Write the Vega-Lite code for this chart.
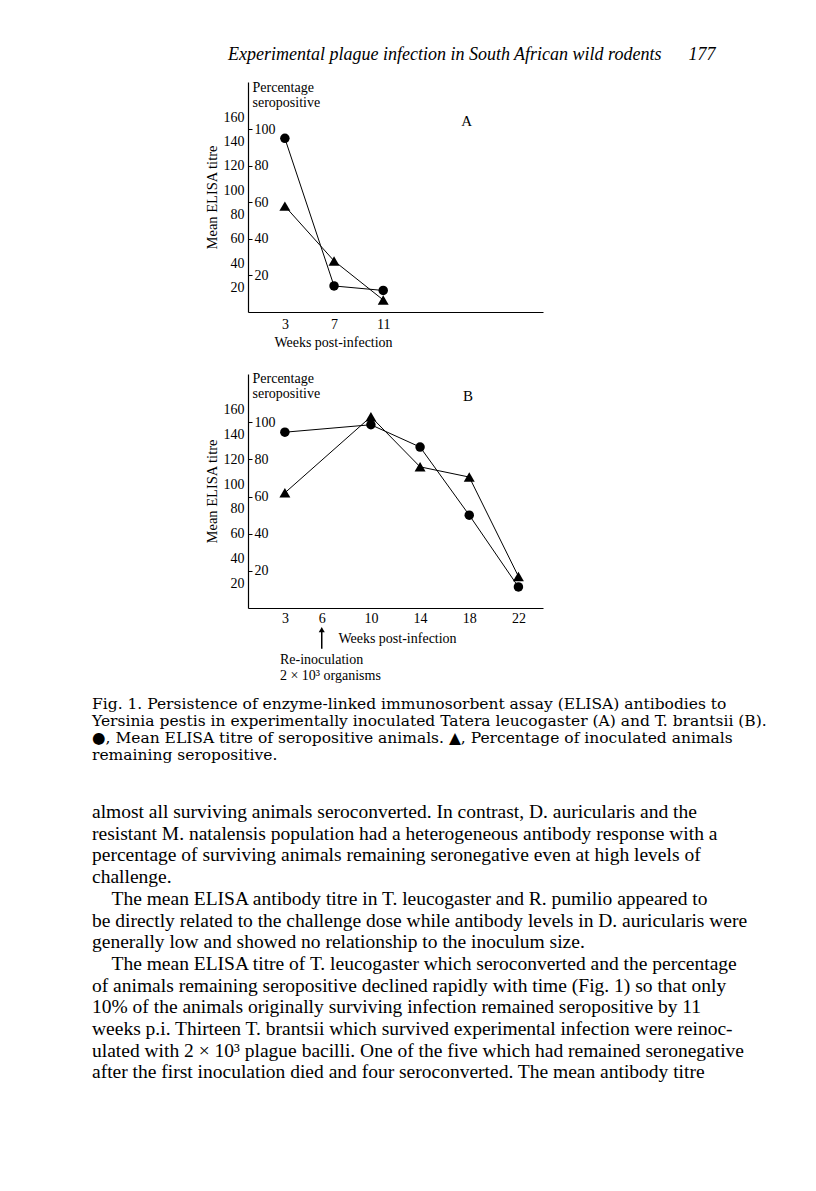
{
  "$schema": "https://vega.github.io/schema/vega-lite/v6.json",
  "background": "white",
  "padding": {"left": 92, "top": 46, "right": 5, "bottom": 5},
  "bounds": "flush",
  "spacing": 62,
  "config": {
    "view": {"stroke": null},
    "font": "Liberation Serif",
    "axis": {"grid": false, "domainColor": "black", "domainWidth": 1.2, "tickColor": "black", "labelColor": "black", "titleColor": "black", "labelFont": "Liberation Serif", "titleFont": "Liberation Serif", "labelFontSize": 14, "titleFontSize": 14, "titleFontWeight": "normal"}
  },
  "datasets": {
    "panelA": [
      {"week": 3, "elisa": 142.7, "pct": 58},
      {"week": 7, "elisa": 21.4, "pct": 28},
      {"week": 11, "elisa": 17.7, "pct": 6.6}
    ],
    "panelB": [
      {"week": 3, "elisa": 142, "pct": 62},
      {"week": 10, "elisa": 148, "pct": 103},
      {"week": 14, "elisa": 130, "pct": 76},
      {"week": 18, "elisa": 75, "pct": 70.5},
      {"week": 22, "elisa": 17, "pct": 17}
    ]
  },
  "vconcat": [
    {
      "width": 295,
      "height": 230,
      "data": {"name": "panelA"},
      "title": {
        "text": "Experimental plague infection in South African wild rodents\u2003\u00a0\u00a0177",
        "orient": "top", "anchor": "start", "frame": "group", "dx": -20, "offset": 16,
        "font": "Liberation Serif", "fontSize": 18, "fontStyle": "italic", "fontWeight": "normal", "color": "black"
      },
      "encoding": {
        "x": {"field": "week", "type": "quantitative", "scale": {"domain": [0, 24], "nice": false, "zero": false},
              "axis": {"values": [3, 7, 11], "tickSize": 0, "labelPadding": 5, "labelFlush": false, "title": "Weeks post-infection", "titleX": 85, "titlePadding": 4}}
      },
      "layer": [
        {"mark": {"type": "line", "color": "black", "strokeWidth": 1},
         "encoding": {"y": {"field": "elisa", "type": "quantitative", "scale": {"domain": [0, 189], "nice": false},
                  "axis": {"orient": "left", "values": [20, 40, 60, 80, 100, 120, 140, 160], "tickSize": 0, "labelPadding": 4, "title": "Mean ELISA titre", "titleFontSize": 14.5, "titlePadding": 4}}}},
        {"mark": {"type": "point", "shape": "circle", "filled": true, "color": "black", "opacity": 1, "size": 90},
         "encoding": {"y": {"field": "elisa", "type": "quantitative", "scale": {"domain": [0, 189], "nice": false}, "axis": null}}},
        {"mark": {"type": "line", "color": "black", "strokeWidth": 1},
         "encoding": {"y": {"field": "pct", "type": "quantitative", "scale": {"domain": [0, 126], "nice": false},
                  "axis": {"orient": "right", "offset": -295, "values": [20, 40, 60, 80, 100], "domain": false, "tickSize": 4, "labelPadding": 2,
                           "title": ["Percentage", "seropositive"], "titleAngle": 0, "titleAlign": "left", "titleBaseline": "top", "titleX": 4, "titleY": -2, "titleLineHeight": 15}}}},
        {"mark": {"type": "point", "shape": "triangle-up", "filled": true, "color": "black", "opacity": 1, "size": 120},
         "encoding": {"y": {"field": "pct", "type": "quantitative", "scale": {"domain": [0, 126], "nice": false}, "axis": null}}},
        {"transform": [{"filter": "datum.week == 3"}],
         "mark": {"type": "text", "fontSize": 15, "align": "center", "baseline": "middle", "color": "black", "font": "Liberation Serif", "text": "A"},
         "encoding": {"x": {"datum": 17.8, "type": "quantitative"},
                      "y": {"datum": 157, "type": "quantitative", "scale": {"domain": [0, 189], "nice": false}, "axis": null}}}
      ],
      "resolve": {"scale": {"y": "independent"}, "axis": {"y": "independent"}}
    },
    {
      "width": 295,
      "height": 234,
      "data": {"name": "panelB"},
      "title": {
        "text": [
          "Fig. 1. Persistence of enzyme-linked immunosorbent assay (ELISA) antibodies to",
          "Yersinia pestis in experimentally inoculated Tatera leucogaster (A) and T. brantsii (B).",
          "\u25cf, Mean ELISA titre of seropositive animals. \u25b2, Percentage of inoculated animals",
          "remaining seropositive."
        ],
        "subtitle": [
          "almost all surviving animals seroconverted. In contrast, D. auricularis and the",
          "resistant M. natalensis population had a heterogeneous antibody response with a",
          "percentage of surviving animals remaining seronegative even at high levels of",
          "challenge.",
          "\u200b\u2003The mean ELISA antibody titre in T. leucogaster and R. pumilio appeared to",
          "be directly related to the challenge dose while antibody levels in D. auricularis were",
          "generally low and showed no relationship to the inoculum size.",
          "\u200b\u2003The mean ELISA titre of T. leucogaster which seroconverted and the percentage",
          "of animals remaining seropositive declined rapidly with time (Fig. 1) so that only",
          "10% of the animals originally surviving infection remained seropositive by 11",
          "weeks p.i. Thirteen T. brantsii which survived experimental infection were reinoc-",
          "ulated with 2 \u00d7 10\u00b3 plague bacilli. One of the five which had remained seronegative",
          "after the first inoculation died and four seroconverted. The mean antibody titre"
        ],
        "orient": "bottom", "anchor": "start", "frame": "group", "dx": -156, "offset": 14,
        "font": "DejaVu Serif", "fontSize": 15.5, "fontWeight": "normal", "lineHeight": 17, "color": "black",
        "subtitleFont": "Liberation Serif", "subtitleFontSize": 19.5, "subtitleLineHeight": 21.7, "subtitlePadding": 40, "subtitleColor": "black"
      },
      "encoding": {
        "x": {"field": "week", "type": "quantitative", "scale": {"domain": [0, 24], "nice": false, "zero": false},
              "axis": {"values": [3, 6, 10, 14, 18, 22], "tickSize": 0, "labelPadding": 3, "labelFlush": false, "title": "Weeks post-infection", "titleX": 149, "titlePadding": 6}}
      },
      "layer": [
        {"mark": {"type": "line", "color": "black", "strokeWidth": 1},
         "encoding": {"y": {"field": "elisa", "type": "quantitative", "scale": {"domain": [0, 189], "nice": false},
                  "axis": {"orient": "left", "values": [20, 40, 60, 80, 100, 120, 140, 160], "tickSize": 0, "labelPadding": 4, "title": "Mean ELISA titre", "titleFontSize": 14.5, "titlePadding": 4}}}},
        {"mark": {"type": "point", "shape": "circle", "filled": true, "color": "black", "opacity": 1, "size": 90},
         "encoding": {"y": {"field": "elisa", "type": "quantitative", "scale": {"domain": [0, 189], "nice": false}, "axis": null}}},
        {"mark": {"type": "line", "color": "black", "strokeWidth": 1},
         "encoding": {"y": {"field": "pct", "type": "quantitative", "scale": {"domain": [0, 126], "nice": false},
                  "axis": {"orient": "right", "offset": -295, "values": [20, 40, 60, 80, 100], "domain": false, "tickSize": 4, "labelPadding": 2,
                           "title": ["Percentage", "seropositive"], "titleAngle": 0, "titleAlign": "left", "titleBaseline": "top", "titleX": 4, "titleY": -3, "titleLineHeight": 15}}}},
        {"mark": {"type": "point", "shape": "triangle-up", "filled": true, "color": "black", "opacity": 1, "size": 120},
         "encoding": {"y": {"field": "pct", "type": "quantitative", "scale": {"domain": [0, 126], "nice": false}, "axis": null}}},
        {"transform": [{"filter": "datum.week == 3"}],
         "mark": {"type": "text", "fontSize": 15, "align": "center", "baseline": "middle", "color": "black", "font": "Liberation Serif", "text": "B"},
         "encoding": {"x": {"datum": 17.9, "type": "quantitative"},
                      "y": {"datum": 171, "type": "quantitative", "scale": {"domain": [0, 189], "nice": false}, "axis": null}}},
        {"transform": [{"filter": "datum.week == 3"}],
         "mark": {"type": "rule", "color": "black", "strokeWidth": 1.5},
         "encoding": {"x": {"datum": 6, "type": "quantitative"},
                      "y": {"datum": -18, "type": "quantitative", "scale": {"domain": [0, 189], "nice": false}, "axis": null},
                      "y2": {"datum": -33}}},
        {"transform": [{"filter": "datum.week == 3"}],
         "mark": {"type": "point", "shape": "triangle-up", "filled": true, "color": "black", "opacity": 1, "size": 36},
         "encoding": {"x": {"datum": 6, "type": "quantitative"},
                      "y": {"datum": -17.5, "type": "quantitative", "scale": {"domain": [0, 189], "nice": false}, "axis": null}}},
        {"transform": [{"filter": "datum.week == 3"}],
         "mark": {"type": "text", "fontSize": 14, "align": "left", "baseline": "top", "lineHeight": 16, "color": "black", "font": "Liberation Serif", "text": ["Re-inoculation", "2 \u00d7 10\u00b3 organisms"]},
         "encoding": {"x": {"datum": 2.6, "type": "quantitative"},
                      "y": {"datum": -36, "type": "quantitative", "scale": {"domain": [0, 189], "nice": false}, "axis": null}}}
      ],
      "resolve": {"scale": {"y": "independent"}, "axis": {"y": "independent"}}
    }
  ]
}
